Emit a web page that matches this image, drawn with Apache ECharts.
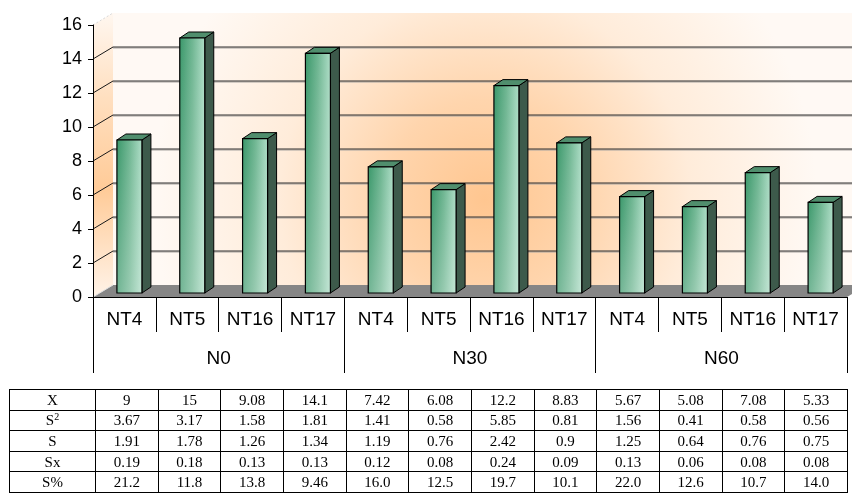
<!DOCTYPE html>
<html>
<head>
<meta charset="utf-8">
<script src="https://cdn.jsdelivr.net/npm/echarts@6/dist/echarts.min.js"></script>
<style>
  html, body { margin: 0; padding: 0; background: #fff; }
  #wrap { position: relative; width: 852px; height: 493px; overflow: hidden; }
  #chart { position: absolute; left: 0; top: 0; width: 852px; height: 493px; }
  #stats {
    position: absolute; left: 9px; top: 389px; width: 838px;
    border-collapse: collapse; table-layout: fixed;
    font-family: "Liberation Serif", "Times New Roman", serif; font-size: 15px; color: #000;
  }
  #stats td { border: 1px solid #000; text-align: center; padding: 0; height: 19.6px; line-height: 18px; }
  #stats sup { font-size: 10px; line-height: 0; vertical-align: 5px; }
</style>
</head>
<body>
<div id="wrap">
  <div id="chart"></div>
  <table id="stats"></table>
</div>
<script>
// Treatments (inner axis) and nitrogen levels (outer axis)
const categories = ['NT4', 'NT5', 'NT16', 'NT17', 'NT4', 'NT5', 'NT16', 'NT17', 'NT4', 'NT5', 'NT16', 'NT17'];
const groups = ['N0', 'N30', 'N60'];

// Statistics per treatment
const meanX    = [9, 15, 9.08, 14.1, 7.42, 6.08, 12.2, 8.83, 5.67, 5.08, 7.08, 5.33];
const variance = ['3.67', '3.17', '1.58', '1.81', '1.41', '0.58', '5.85', '0.81', '1.56', '0.41', '0.58', '0.56'];
const stdDev   = ['1.91', '1.78', '1.26', '1.34', '1.19', '0.76', '2.42', '0.9', '1.25', '0.64', '0.76', '0.75'];
const stdErr   = ['0.19', '0.18', '0.13', '0.13', '0.12', '0.08', '0.24', '0.09', '0.13', '0.06', '0.08', '0.08'];
const cvPct    = ['21.2', '11.8', '13.8', '9.46', '16.0', '12.5', '19.7', '10.1', '22.0', '12.6', '10.7', '14.0'];

// Value axis ticks
const yTicks = [0, 2, 4, 6, 8, 10, 12, 14, 16];

// ---- statistics table under the chart ----
(function buildTable() {
  const rows = [
    ['X', meanX.map(String)],
    ['S<sup>2</sup>', variance],
    ['S', stdDev],
    ['Sx', stdErr],
    ['S%', cvPct]
  ];
  let html = '<colgroup><col style="width:86px">';
  for (let i = 0; i < categories.length; i++) html += '<col style="width:62.67px">';
  html += '</colgroup>';
  rows.forEach(([head, vals]) => {
    html += '<tr><td>' + head + '</td>' + vals.map(v => '<td>' + v + '</td>').join('') + '</tr>';
  });
  document.getElementById('stats').innerHTML = html;
})();

// ---- 3D look: wall depth and bar geometry ----
const WALL_DX = 20, WALL_DY = -12;
const BAR_SHIFT_X = 5, BAR_SHIFT_Y = -4;
const BAR_DEPTH_X = 9, BAR_DEPTH_Y = -6;
const BAR_W = 25;
const FONT = '"Liberation Sans", Arial, sans-serif';

function renderScene(params, api) {
  const cs = params.coordSys;
  const x0 = cs.x, x1 = cs.x + cs.width;
  const yT = cs.y, yB = cs.y + cs.height;
  const children = [];

  // back wall with warm glow
  const glow = new echarts.graphic.RadialGradient(
    x0 + cs.width * 0.52, yT + cs.height * 0.64, cs.width * 0.44,
    [
      { offset: 0, color: '#ffc690' },
      { offset: 0.3, color: '#ffd5ad' },
      { offset: 0.62, color: '#ffecda' },
      { offset: 1, color: '#fff9f4' }
    ], true);
  children.push({
    type: 'rect',
    shape: { x: x0 + WALL_DX, y: yT + WALL_DY, width: cs.width + 40, height: cs.height },
    style: { fill: glow }
  });

  // left side wall
  children.push({
    type: 'polygon',
    shape: { points: [[x0, yT], [x0 + WALL_DX, yT + WALL_DY], [x0 + WALL_DX, yB + WALL_DY], [x0, yB]] },
    style: {
      fill: new echarts.graphic.LinearGradient(0, 0, 0, 1, [
        { offset: 0, color: '#fff7f0' },
        { offset: 0.3, color: '#ffdfbf' },
        { offset: 0.62, color: '#ffcb98' },
        { offset: 1, color: '#fff3e8' }
      ])
    }
  });

  // floor
  children.push({
    type: 'polygon',
    shape: { points: [[x0, yB], [x1, yB], [x1 + WALL_DX, yB + WALL_DY], [x0 + WALL_DX, yB + WALL_DY]] },
    style: { fill: '#868686' }
  });

  const yMax = yTicks[yTicks.length - 1];
  yTicks.forEach(v => {
    const y = api.coord([0, v])[1];
    if (v > 0 && v < yMax) {
      // grid line on the back wall, with its soft shadow
      children.push({
        type: 'line',
        shape: { x1: x0 + WALL_DX, y1: y + WALL_DY + 1, x2: x1 + WALL_DX + 40, y2: y + WALL_DY + 1 },
        style: { stroke: '#a8a4a0', lineWidth: 1 }
      });
      children.push({
        type: 'line',
        shape: { x1: x0 + WALL_DX, y1: y + WALL_DY, x2: x1 + WALL_DX + 40, y2: y + WALL_DY },
        style: { stroke: '#2e2e2e', lineWidth: 1 }
      });
      // grid line on the side wall
      children.push({
        type: 'line',
        shape: { x1: x0, y1: y, x2: x0 + WALL_DX, y2: y + WALL_DY },
        style: { stroke: '#1a1a1a', lineWidth: 1 }
      });
    } else if (v === yMax) {
      children.push({
        type: 'line',
        shape: { x1: x0, y1: y, x2: x0 + WALL_DX, y2: y + WALL_DY },
        style: { stroke: '#d8d8d8', lineWidth: 1, lineDash: [2, 2] }
      });
    } else {
      children.push({
        type: 'line',
        shape: { x1: x0, y1: y, x2: x0 + WALL_DX, y2: y + WALL_DY },
        style: { stroke: '#e0e0e0', lineWidth: 1 }
      });
    }
  });

  return { type: 'group', children };
}

// front face: dark green on the left fading to pale mint on the right
const frontFill = new echarts.graphic.LinearGradient(0, 0, 1, 0, [
  { offset: 0, color: '#3b986b' },
  { offset: 0.5, color: '#6fb692' },
  { offset: 1, color: '#acdcc5' }
]);
// slight lightening towards the foot of each bar
const frontSheen = new echarts.graphic.LinearGradient(0, 0, 0, 1, [
  { offset: 0, color: 'rgba(255,255,255,0)' },
  { offset: 1, color: 'rgba(255,255,255,0.28)' }
]);

function renderBar(params, api) {
  const i = api.value(0), v = api.value(1);
  const top = api.coord([i, v]);
  const base = api.coord([i, 0]);
  const xl = top[0] + BAR_SHIFT_X - BAR_W / 2;
  const xr = xl + BAR_W;
  const yt = top[1] + BAR_SHIFT_Y;
  const yb = base[1] + BAR_SHIFT_Y;
  const dx = BAR_DEPTH_X, dy = BAR_DEPTH_Y;
  return {
    type: 'group',
    children: [
      {
        type: 'polygon',
        shape: { points: [[xr, yt], [xr + dx, yt + dy], [xr + dx, yb + dy], [xr, yb]] },
        style: { fill: '#3d5a4b', stroke: '#000', lineWidth: 1 }
      },
      {
        type: 'polygon',
        shape: { points: [[xl, yt], [xl + dx, yt + dy], [xr + dx, yt + dy], [xr, yt]] },
        style: { fill: '#508e6d', stroke: '#000', lineWidth: 1 }
      },
      {
        type: 'rect',
        shape: { x: xl, y: yt, width: BAR_W, height: yb - yt },
        style: { fill: frontFill }
      },
      {
        type: 'rect',
        shape: { x: xl, y: yt, width: BAR_W, height: yb - yt },
        style: { fill: frontSheen, stroke: '#000', lineWidth: 1.2 }
      }
    ]
  };
}

const chart = echarts.init(document.getElementById('chart'), null, { renderer: 'canvas' });
chart.setOption({
  animation: false,
  backgroundColor: 'transparent',
  grid: { left: 93, right: 5, top: 25, bottom: 196 },
  xAxis: [
    {
      type: 'category', data: categories, position: 'bottom', z: 10,
      axisLine: { show: true, lineStyle: { color: '#000', width: 1 } },
      axisTick: { show: true, interval: 0, length: 35, lineStyle: { color: '#000', width: 1 } },
      axisLabel: { interval: 0, margin: 13, color: '#000', fontSize: 19, fontFamily: FONT }
    },
    {
      type: 'category', data: groups, position: 'bottom', offset: 0, z: 10,
      axisLine: { show: false },
      axisTick: { show: true, interval: 0, length: 76, lineStyle: { color: '#000', width: 1 } },
      axisLabel: { interval: 0, margin: 52, color: '#000', fontSize: 19, fontFamily: FONT }
    }
  ],
  yAxis: {
    type: 'value', min: yTicks[0], max: yTicks[yTicks.length - 1], interval: 2, z: 10,
    axisLine: { show: true, lineStyle: { color: '#000', width: 1 } },
    axisTick: { show: true, length: 5, lineStyle: { color: '#000', width: 1 } },
    axisLabel: { margin: 11, color: '#000', fontSize: 18, fontFamily: FONT },
    splitLine: { show: false }
  },
  series: [
    {
      type: 'custom', name: 'scene', silent: true, z: 1,
      xAxisIndex: 0, yAxisIndex: 0,
      data: [[0, 0]],
      renderItem: renderScene
    },
    {
      type: 'custom', name: 'X', z: 3,
      xAxisIndex: 0, yAxisIndex: 0,
      encode: { x: 0, y: 1 },
      data: meanX.map((v, i) => [i, v]),
      renderItem: renderBar
    }
  ]
});
</script>
</body>
</html>
